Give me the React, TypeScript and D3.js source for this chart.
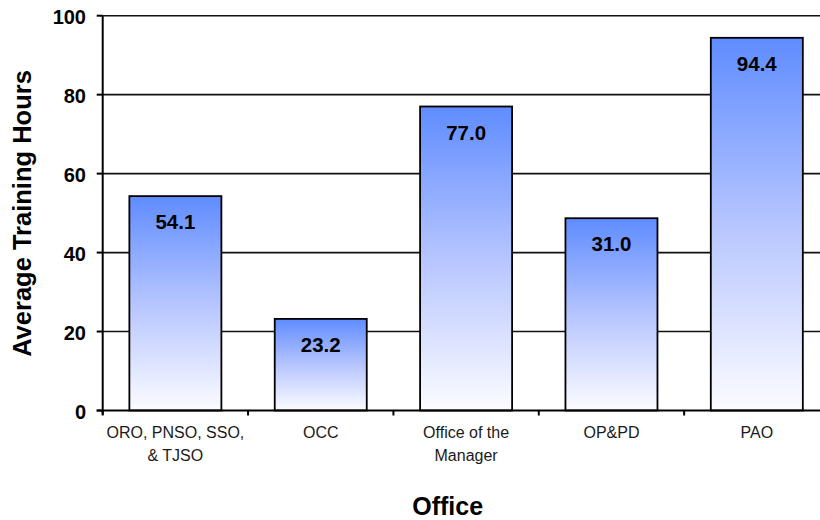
import React from "react";
import * as d3 from "d3";

const categories = ["ORO, PNSO, SSO, & TJSO", "OCC", "Office of the Manager", "OP&PD", "PAO"];
const categoryLines = [["ORO, PNSO, SSO,", "& TJSO"], ["OCC"], ["Office of the", "Manager"], ["OP&PD"], ["PAO"]];
const barValues = [54.3, 23.2, 77.0, 48.7, 94.4];
const valueLabels = ["54.1", "23.2", "77.0", "31.0", "94.4"];
const yTicks = [0, 20, 40, 60, 80, 100];

const W = 820;
const H = 520;
const FONT = "'Liberation Sans', Arial, sans-serif";

export default function App() {
  const y = d3.scaleLinear().domain([0, 100]).range([410.5, 15.7]);
  const x = d3
    .scaleBand<string>()
    .domain(categories)
    .range([102.7, 829.5])
    .paddingInner(0.367)
    .paddingOuter(0.1835);
  const step = x.step();
  const x0 = 102.7;
  const boundaries = d3.range(categories.length + 1).map((i) => x0 + i * step);

  return (
    <svg width={W} height={H} style={{ position: "absolute", left: 0, top: 0, background: "#fff" }} fontFamily={FONT}>
      <defs>
        <linearGradient id="barGrad" x1="0" y1="0" x2="0" y2="1">
          <stop offset="0%" stopColor="#5f8cff" />
          <stop offset="50%" stopColor="#b6c5ff" />
          <stop offset="100%" stopColor="#fcfcff" />
        </linearGradient>
      </defs>
      {yTicks.filter((t) => t > 0).map((t) => (
        <line key={t} x1={x0} x2={W} y1={y(t)} y2={y(t)} stroke="#111" strokeWidth={1.6} />
      ))}
      {categories.map((c, i) => (
        <rect
          key={c}
          x={x(c)!}
          y={y(barValues[i])}
          width={x.bandwidth()}
          height={y(0) - y(barValues[i])}
          fill="url(#barGrad)"
          stroke="#000"
          strokeWidth={1.8}
        />
      ))}
      {categories.map((c, i) => (
        <text
          key={c}
          x={x(c)! + x.bandwidth() / 2}
          y={y(barValues[i]) + 33}
          textAnchor="middle"
          fontSize={20.5}
          fontWeight="bold"
          fill="#000"
        >
          {valueLabels[i]}
        </text>
      ))}
      <line x1={x0} x2={x0} y1={y(100)} y2={y(0) + 4} stroke="#000" strokeWidth={2} />
      {yTicks.map((t) => (
        <g key={t}>
          <line x1={x0 - 6} x2={x0} y1={y(t)} y2={y(t)} stroke="#000" strokeWidth={2} />
          <text x={86} y={y(t) + 8.5} textAnchor="end" fontSize={20} fontWeight="bold" fill="#000">
            {t}
          </text>
        </g>
      ))}
      <line x1={x0 - 6} x2={W} y1={y(0)} y2={y(0)} stroke="#000" strokeWidth={2} />
      {boundaries.map((b, i) => (
        <line key={i} x1={b} x2={b} y1={y(0)} y2={y(0) + 5} stroke="#000" strokeWidth={2} />
      ))}
      {categories.map((c, i) => (
        <text key={c} textAnchor="middle" fontSize={16} fill="#1a1a1a">
          {categoryLines[i].map((ln, j) => (
            <tspan key={j} x={x(c)! + x.bandwidth() / 2} y={438 + j * 22.5}>
              {ln}
            </tspan>
          ))}
        </text>
      ))}
      <text
        transform={`translate(31, 213.5) rotate(-90)`}
        textAnchor="middle"
        fontSize={25.5}
        fontWeight="bold"
        fill="#000"
      >
        Average Training Hours
      </text>
      <text x={447.7} y={515} textAnchor="middle" fontSize={25} fontWeight="bold" fill="#000">
        Office
      </text>
    </svg>
  );
}
